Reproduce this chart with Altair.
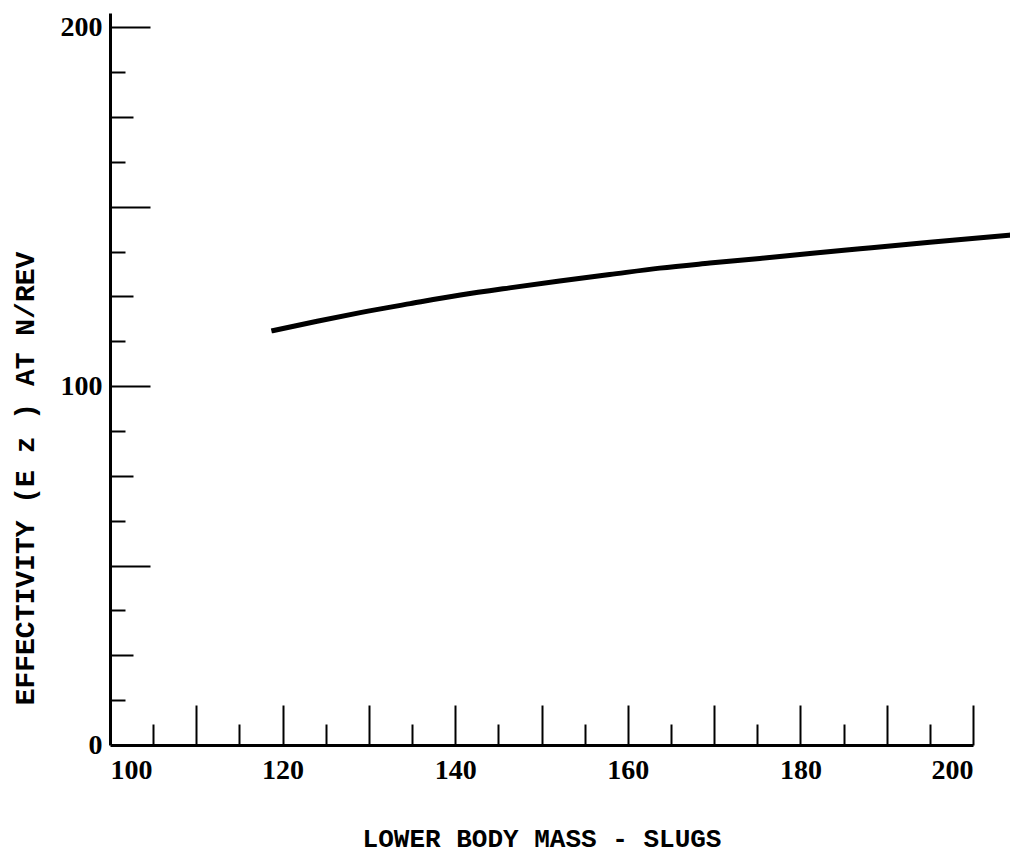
import altair as alt
import pandas as pd

# Curve
mass = [118.7, 124.0, 129.0, 134.8, 140.6, 146.3, 152.1, 157.9, 163.7, 169.5, 175.3, 181.1, 186.9, 195.0, 204.3]
effectivity = [115.4, 118.1, 120.5, 123.0, 125.4, 127.4, 129.3, 131.1, 132.9, 134.3, 135.6, 137.0, 138.3, 140.1, 142.1]

# Axis labels and ticks
x_labels = [100, 120, 140, 160, 180, 200]
y_labels = [0, 100, 200]
x_major = [110, 120, 130, 140, 150, 160, 170, 180, 190, 200]
x_minor = [105, 115, 125, 135, 145, 155, 165, 175, 185, 195]
y_major = [50, 100, 150, 200]
y_mid = [25, 75, 125, 175]
y_minor = [12.5, 37.5, 62.5, 87.5, 112.5, 137.5, 162.5, 187.5]

df = pd.DataFrame({"mass": mass, "eff": effectivity})

W, H = 863, 732
xs = alt.Scale(domain=[100, 200], nice=False, zero=False)
ys = alt.Scale(domain=[0, 204], nice=False, zero=False)

LF = "Liberation Serif"
TF = "Liberation Mono"

base = alt.Chart(df)

main = base.mark_line(color="black", strokeWidth=5, interpolate="monotone").encode(
    x=alt.X("mass:Q", scale=xs, axis=alt.Axis(
        orient="bottom", values=x_labels, ticks=False, grid=False,
        domain=True, domainColor="black", domainWidth=3,
        labelFont=LF, labelFontWeight="bold", labelFontSize=28, labelColor="black",
        labelPadding=11,
        title="LOWER BODY MASS  -  SLUGS", titleFont=TF, titleFontWeight="bold",
        titleFontSize=26, titleColor="black", titleY=93, titleBaseline="middle")),
    y=alt.Y("eff:Q", scale=ys, axis=alt.Axis(
        orient="left", values=y_labels, ticks=False, grid=False,
        domain=True, domainColor="black", domainWidth=3,
        labelFont=LF, labelFontWeight="bold", labelFontSize=28, labelColor="black",
        labelPadding=8,
        title="EFFECTIVITY (E z ) AT N/REV", titleFont=TF, titleFontWeight="bold",
        titleFontSize=28, titleColor="black", titleX=-85, titleY=465,
        titleAngle=-90, titleAlign="center", titleBaseline="middle")),
)


def tick_layer(xvals, xlen, yvals, ylen):
    return base.mark_line(opacity=0).encode(
        x=alt.X("mass:Q", scale=xs, axis=alt.Axis(
            orient="top", offset=-H, values=xvals, tickSize=xlen, tickWidth=2,
            tickColor="black", labels=False, domain=False, grid=False, title=None)),
        y=alt.Y("eff:Q", scale=ys, axis=alt.Axis(
            orient="right", offset=-W, values=yvals, tickSize=ylen, tickWidth=2,
            tickColor="black", labels=False, domain=False, grid=False, title=None)),
    )


chart = alt.layer(
    main,
    tick_layer(x_major, 40, y_major, 40),
    tick_layer(x_minor, 21, y_mid, 23),
    tick_layer([], 1, y_minor, 15),
).resolve_axis(x="independent", y="independent").properties(
    width=W, height=H,
    padding={"left": 110, "top": 13, "right": 37, "bottom": 108},
    autosize=alt.AutoSizeParams(type="none"),
    background="white",
).configure_view(stroke=None)

chart.save("out.html", embed_options={"renderer": "svg", "actions": False})
